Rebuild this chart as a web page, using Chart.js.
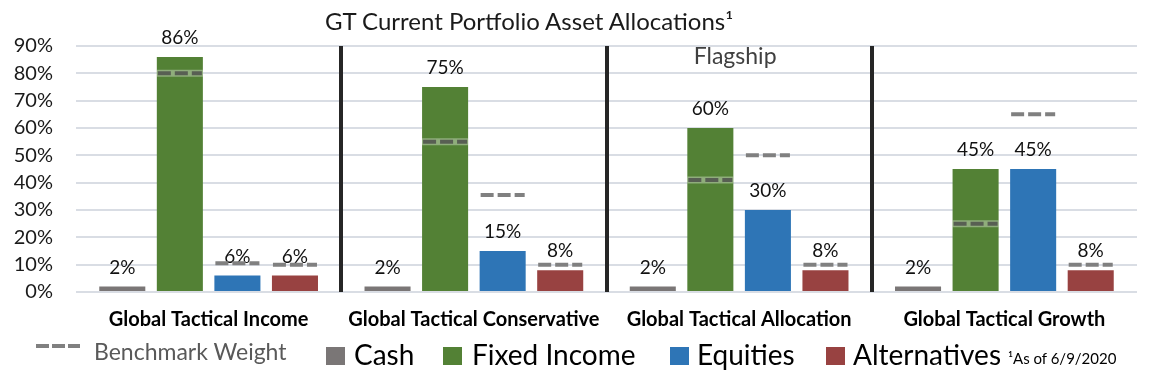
<!DOCTYPE html>
<html>
<head>
<meta charset="utf-8">
<script src="https://cdn.jsdelivr.net/npm/chart.js@4.4.1/dist/chart.umd.min.js"></script>
<style>
  body { margin: 0; background: #fff; }
  #wrap { position: relative; width: 1153px; height: 377px; overflow: hidden; font-family: Lato, sans-serif; }
  #chart { position: absolute; left: 0; top: 0; }
  .txt { position: absolute; white-space: nowrap; line-height: 1; }
  .sw { position: absolute; top: 347px; width: 19px; height: 18px; }
  .dash { position: absolute; top: 344px; height: 4px; background: #808080; }
</style>
</head>
<body>
<div id="wrap">
  <canvas id="chart" width="1153" height="377"></canvas>
  <div class="txt" style="left:325px;top:9px;font-size:24px;color:#1a1a1a;">GT Current Portfolio Asset Allocations¹</div>

  <!-- legend -->
  <div class="dash" style="left:36px;width:13px;"></div>
  <div class="dash" style="left:52px;width:13px;"></div>
  <div class="dash" style="left:68px;width:12px;"></div>
  <div class="txt" style="left:94px;top:340px;font-size:23px;color:#595959;">Benchmark Weight</div>
  <div class="sw" style="left:326px;background:#7a7676;"></div>
  <div class="txt" style="left:354px;top:340px;font-size:28px;color:#000;">Cash</div>
  <div class="sw" style="left:443px;background:#538135;"></div>
  <div class="txt" style="left:472px;top:340px;font-size:28px;color:#000;">Fixed Income</div>
  <div class="sw" style="left:670px;background:#2e75b6;"></div>
  <div class="txt" style="left:697px;top:340px;font-size:28px;color:#000;">Equities</div>
  <div class="sw" style="left:826px;background:#984241;"></div>
  <div class="txt" style="left:853px;top:340px;font-size:28px;color:#000;">Alternatives</div>
  <div class="txt" style="left:1008px;top:351px;font-size:15px;color:#000;">¹As of 6/9/2020</div>
</div>

<script>
// Portfolios (categories)
const groups = ['Global Tactical Income', 'Global Tactical Conservative', 'Global Tactical Allocation', 'Global Tactical Growth'];

// Current allocations, %
const cash = [2, 2, 2, 2];
const fixedIncome = [86, 75, 60, 45];
const equities = [6, 15, 30, 45];
const alternatives = [6, 8, 8, 8];

// Benchmark weights, %
const benchFixedIncome = [80, 55, 41, 25];
const benchEquities = [10.5, 35.5, 50, 65];
const benchAlternatives = [10, 10, 10, 10];

// Y axis tick labels
const yTickLabels = ['0%', '10%', '20%', '30%', '40%', '50%', '60%', '70%', '80%', '90%'];

// Draw value labels, benchmark dashes and the "Flagship" note
const overlay = {
    id: 'overlay',
    afterDatasetsDraw(chart) {
        const ctx = chart.ctx;
        const yScale = chart.scales.y;
        const xScale = chart.scales.x;

        // value labels first so dashes sit on top
        chart.data.datasets.forEach((ds, i) => {
            chart.getDatasetMeta(i).data.forEach((bar, j) => {
                ctx.save();
                ctx.font = '19px Lato';
                ctx.fillStyle = '#111';
                ctx.textAlign = 'center';
                ctx.textBaseline = 'middle';
                ctx.fillText(ds.data[j] + '%', bar.x, bar.y - 19);
                ctx.restore();
            });
        });

        chart.data.datasets.forEach((ds, i) => {
            if (!ds.bench) return;
            chart.getDatasetMeta(i).data.forEach((bar, j) => {
                const b = ds.bench[j];
                if (b == null) return;
                const by = yScale.getPixelForValue(b);
                const x0 = bar.x - bar.width / 2;
                const x1 = bar.x + bar.width / 2;
                const inside = b < ds.data[j];
                ctx.save();
                if (inside) {
                    ctx.strokeStyle = 'rgba(255,255,255,0.35)';
                    ctx.lineWidth = 7;
                    ctx.beginPath();
                    ctx.moveTo(x0, by);
                    ctx.lineTo(x1, by);
                    ctx.stroke();
                }
                ctx.setLineDash([13, 4]);
                ctx.lineWidth = 4;
                ctx.strokeStyle = inside ? 'rgba(70,70,70,0.75)' : '#808080';
                ctx.beginPath();
                ctx.moveTo(x0 + 1, by);
                ctx.lineTo(x1 - 1, by);
                ctx.stroke();
                ctx.restore();
            });
        });

        // Flagship note over the third portfolio
        ctx.save();
        ctx.font = '23px Lato';
        ctx.fillStyle = '#404040';
        ctx.textAlign = 'center';
        ctx.textBaseline = 'middle';
        ctx.fillText('Flagship', xScale.getPixelForValue(2) - 4, 57);
        ctx.restore();
    }
};

const ctx = document.getElementById('chart').getContext('2d');
new Chart(ctx, {
    type: 'bar',
    data: {
        labels: groups,
        datasets: [
            { label: 'Cash', data: cash, backgroundColor: '#7a7676', bench: null },
            { label: 'Fixed Income', data: fixedIncome, backgroundColor: '#538135', bench: benchFixedIncome },
            { label: 'Equities', data: equities, backgroundColor: '#2e75b6', bench: benchEquities },
            { label: 'Alternatives', data: alternatives, backgroundColor: '#984241', bench: benchAlternatives }
        ]
    },
    options: {
        responsive: false,
        animation: false,
        layout: { padding: { top: 46, right: 16, bottom: 45, left: 0 } },
        datasets: { bar: { categoryPercentage: 0.868, barPercentage: 0.8 } },
        plugins: {
            legend: { display: false },
            title: { display: false },
            tooltip: { enabled: false }
        },
        scales: {
            x: {
                grid: {
                    offset: true,
                    z: 0,
                    drawTicks: false,
                    lineWidth: 4,
                    color: c => (c.index === 1 || c.index === 2 || c.index === 3) ? '#262626' : 'rgba(0,0,0,0)'
                },
                border: { display: false },
                ticks: {
                    font: { family: 'Lato', size: 20, weight: 'bold' },
                    color: '#000',
                    padding: 16
                },
                afterFit: s => { s.height = 40; }
            },
            y: {
                min: 0,
                max: 90,
                grid: { color: '#d9dde4', lineWidth: 2, drawTicks: false },
                border: { display: false },
                ticks: {
                    stepSize: 10,
                    callback: (v, i) => yTickLabels[i],
                    font: { family: 'Lato', size: 20 },
                    color: '#1a1a1a',
                    padding: 23
                },
                afterFit: s => { s.width = 76; }
            }
        }
    },
    plugins: [overlay]
});
</script>
</body>
</html>
